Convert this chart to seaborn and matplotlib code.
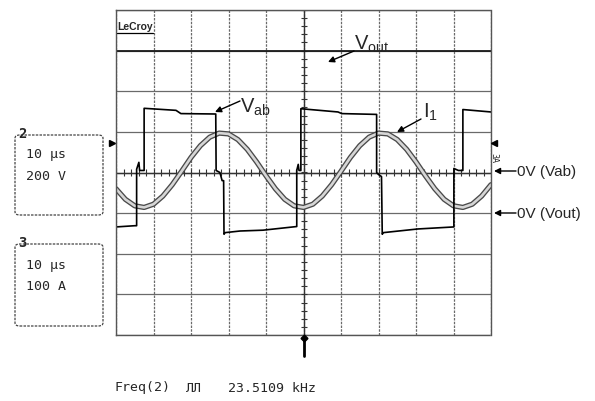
import numpy as np
import pandas as pd
import matplotlib
matplotlib.use("Agg")
import matplotlib.pyplot as plt
import seaborn as sns
from matplotlib.lines import Line2D
from matplotlib.patches import FancyBboxPatch

sns.set_theme(style="white")
plt.rcParams['font.family'] = ['Liberation Sans', 'DejaVu Sans']
plt.rcParams['mathtext.fontset'] = 'custom'
plt.rcParams['mathtext.rm'] = 'Liberation Sans'

# ---------------- data ----------------
US_PER_DIV = 10
VOLTS_PER_DIV = 200
AMPS_PER_DIV = 100

vab_time_us = [0.0, 5.0, 5.5, 5.5, 6.1, 6.3, 7.5, 7.5, 16.0, 17.3, 26.6, 26.7, 27.7, 28.3,
               28.7, 28.8, 29.1, 33.1, 39.2, 48.2, 48.2, 48.6, 48.8, 49.3, 49.3, 59.2,
               60.2, 69.5, 69.5, 70.0, 70.8, 71.0, 71.3, 80.5, 90.1, 90.1, 91.3, 92.5,
               92.5, 100.0]
vab_volts = [-268, -262, -262, 16, 50, 10, 10, 316, 306, 290, 288, 10, 0, -40,
             -40, -304, -296, -288, -284, -266, 10, 40, 10, 10, 314, 298,
             290, 286, 0, -10, -20, -304, -296, -278, -268, 20, 10, 10,
             310, 298]

i1_time_us = [0, 2.5, 5, 7.5, 10, 12.5, 15, 17.5, 20, 22.5, 25, 27.5, 30, 32.5, 35,
              37.5, 40, 42.5, 45, 47.5, 50, 52.5, 55, 57.5, 60, 62.5, 65, 67.5, 70,
              72.5, 75, 77.5, 80, 82.5, 85, 87.5, 90, 92.5, 95, 97.5, 100]
i1_amps = [-40, -66, -82, -86, -78, -58, -30, 3, 37, 66, 87, 97, 95, 81, 57,
           26, -8, -40, -66, -82, -86, -78, -58, -30, 3, 37, 66, 87, 97,
           95, 81, 57, 26, -8, -40, -66, -82, -86, -78, -58, -30]

vout_time_us = [0, 100]
vout_div = [3.0, 3.0]

# ---------------- figure ----------------
W, H = 595, 401
fig = plt.figure(figsize=(W / 100, H / 100), dpi=100)
fig.patch.set_facecolor('white')


def fp(x, y):
    return (x / W, 1 - y / H)


ax = fig.add_axes([116 / W, 1 - 335 / H, 375 / W, 325 / H])
ax.set_xlim(0, 10 * US_PER_DIV)
ax.set_ylim(-4, 4)
ax.set_xticks(np.arange(0, 10 * US_PER_DIV + 1, US_PER_DIV))
ax.set_yticks(np.arange(-4, 5, 1))
ax.tick_params(length=0, labelbottom=False, labelleft=False)
ax.grid(axis='y', color='#6a6a6a', lw=0.9)
ax.grid(axis='x', color='#6a6a6a', lw=0.9, ls=(0, (2, 1)))
for s in ax.spines.values():
    s.set_color('#555555')
    s.set_linewidth(1.0)
    s.set_linestyle((0, (2, 1)))

# centre cross-hair with fine ticks
ax.axvline(5 * US_PER_DIV, color='#333333', lw=1.0)
ax.axhline(0, color='#333333', lw=1.0)
ax.hlines(np.arange(-4, 4.01, 0.2), 5 * US_PER_DIV - 0.8, 5 * US_PER_DIV + 0.8,
          color='#333333', lw=0.8)
ax.vlines(np.arange(0, 100.01, 2), -0.075, 0.075, color='#333333', lw=0.8)

# traces
df_vout = pd.DataFrame({'t': vout_time_us, 'y': vout_div})
sns.lineplot(data=df_vout, x='t', y='y', ax=ax, color='#1a1a1a', lw=1.3,
             estimator=None, sort=False)

df_i1 = pd.DataFrame({'t': i1_time_us, 'y': np.array(i1_amps) / AMPS_PER_DIV})
sns.lineplot(data=df_i1, x='t', y='y', ax=ax, color='#4a4a4a', lw=3.8,
             estimator=None, sort=False, solid_joinstyle='round')
sns.lineplot(data=df_i1, x='t', y='y', ax=ax, color='#d6d6d6', lw=1.9,
             estimator=None, sort=False, solid_joinstyle='round')

df_vab = pd.DataFrame({'t': vab_time_us, 'y': np.array(vab_volts) / VOLTS_PER_DIV})
sns.lineplot(data=df_vab, x='t', y='y', ax=ax, color='black', lw=1.2,
             estimator=None, sort=False)
ax.set_xlabel('')
ax.set_ylabel('')

# ---------------- annotations ----------------
arrow_kw = dict(arrowstyle='-|>', color='black', lw=1.0, mutation_scale=9,
                shrinkA=0, shrinkB=0)


def arrow(x0, y0, x1, y1):
    ax.annotate('', xy=fp(x1, y1), xytext=fp(x0, y0), xycoords='figure fraction',
                textcoords='figure fraction', arrowprops=arrow_kw,
                annotation_clip=False)


fig.text(*fp(240, 113), r'$\mathregular{V_{ab}}$', fontsize=14.5, va='baseline', ha='left')
arrow(240, 101, 215, 112)
fig.text(*fp(354, 50), r'$\mathregular{V_{out}}$', fontsize=14.5, va='baseline', ha='left')
arrow(354, 51, 328, 62)
fig.text(*fp(423, 118), r'$\mathregular{I_{1}}$', fontsize=14.5, va='baseline', ha='left')
arrow(421, 119, 397, 132)

fig.text(*fp(517, 172), '0V (Vab)', fontsize=11, va='center', ha='left')
arrow(516, 171, 494, 171)
fig.text(*fp(517, 214), '0V (Vout)', fontsize=11, va='center', ha='left')
arrow(516, 213, 494, 213)

# LeCroy logo
fig.text(*fp(117, 30), 'LeCroy', fontsize=7.5, fontweight='bold', va='baseline', ha='left')
fig.add_artist(Line2D([117 / W, 153 / W], [1 - 32.5 / H, 1 - 32.5 / H],
                      color='black', lw=0.9, transform=fig.transFigure))

# channel markers
fig.add_artist(Line2D([112 / W], [1 - 143 / H], marker='>', ms=4.5, color='black',
                      transform=fig.transFigure))
fig.add_artist(Line2D([494 / W], [1 - 143 / H], marker='<', ms=4.5, color='black',
                      transform=fig.transFigure))
fig.text(*fp(494, 158), '3A', fontsize=6, rotation=-90, va='center', ha='center',
         family='DejaVu Sans Mono')

# trigger marker
fig.add_artist(Line2D([303.5 / W, 303.5 / W], [1 - 337 / H, 1 - 356 / H],
                      color='black', lw=2.0, transform=fig.transFigure))
fig.add_artist(Line2D([303.5 / W], [1 - 338 / H], marker='D', ms=3.5, color='black',
                      transform=fig.transFigure))

# left info boxes
mono = 'DejaVu Sans Mono'
for (top, bot, num, line1, line2, y1, y2) in [
        (135, 215, '2', '10 µs', '200 V', 154, 176),
        (244, 326, '3', '10 µs', '100 A', 266, 286)]:
    box = FancyBboxPatch((15 / W, 1 - bot / H), 88 / W, (bot - top) / H,
                         boxstyle='round,pad=0,rounding_size=0.008',
                         transform=fig.transFigure, facecolor='none',
                         edgecolor='#444444', lw=0.9, ls=(0, (2, 1)))
    fig.add_artist(box)
    fig.text(*fp(18, top - 1), num, fontsize=10, fontweight='bold', family=mono,
             va='center', ha='left')
    fig.text(*fp(26, y1), line1, fontsize=9.5, family=mono, va='center', ha='left')
    fig.text(*fp(26, y2), line2, fontsize=9.5, family=mono, va='center', ha='left')

# bottom measurement
fig.text(*fp(115, 388), 'Freq(2)', fontsize=9.5, family=mono, va='center', ha='left')
fig.text(*fp(186, 388), 'ЛЛ', fontsize=9.5, family=mono, va='center', ha='left')
fig.text(*fp(228, 388), '23.5109 kHz', fontsize=9.5, family=mono, va='center', ha='left')

fig.savefig('out.png', dpi=100, facecolor='white')
